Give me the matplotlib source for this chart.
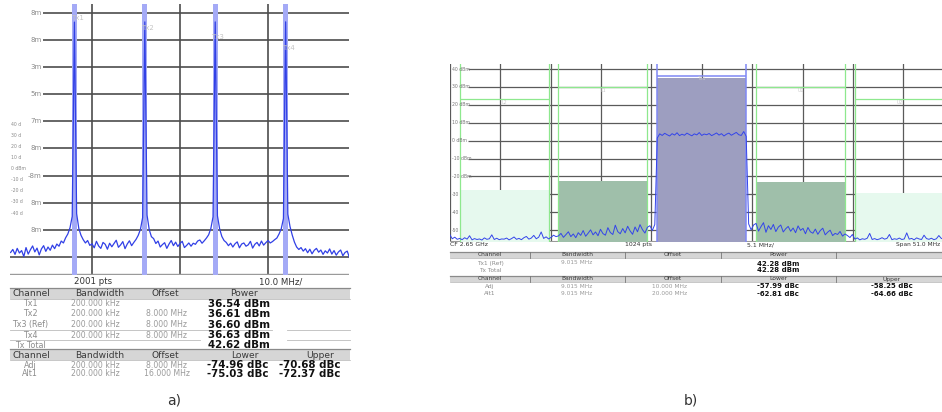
import numpy as np
import matplotlib
matplotlib.use("Agg")
import matplotlib.pyplot as plt
from matplotlib.patches import Rectangle

# ---- a) four GSM carriers, 8 MHz apart ----
carrier_mhz = [-12.0, -4.0, 4.0, 12.0]
carrier_names = ["Tx1", "Tx2", "Tx3 (Ref)", "Tx4"]
carrier_dbm = [36.54, 36.61, 36.60, 36.63]
carrier_bw = ["200.000 kHz"] * 4
carrier_offset = ["", "8.000 MHz", "8.000 MHz", "8.000 MHz"]
total_a = 42.62
acp_a_names = ["Adj", "Alt1"]
acp_a_offset = ["8.000 MHz", "16.000 MHz"]
acp_a_lower = [-74.96, -75.03]
acp_a_upper = [-70.68, -72.37]

# sweep of trace a) starts at -19.25 MHz, 0.25 MHz per point
trace_a_start, trace_a_step = -19.25, 0.25
trace_a = [
    -48.3, -47.2, -49.0, -46.8, -48.5, -47.6, -49.8, -46.5, -48.9, -47.3, -45.9,
    -48.1, -46.7, -49.2, -47.0, -45.8, -47.9, -46.3, -47.5, -45.6, -46.9,
    -45.2, -46.0, -44.1, -44.8, -42.9, -41.5, -39.2, -35.0,
    36.54,
    -34.0, -39.5, -42.0, -43.6, -44.8, -43.9, -45.7,
    -45.1, -46.6, -44.2, -45.9, -46.8, -44.6, -45.3, -47.1, -44.9, -46.2,
    -45.0, -43.8, -46.4, -45.5, -44.3, -46.9, -45.2, -44.0, -45.8,
    -44.6, -43.5, -42.0, -39.8, -35.5,
    36.61,
    -34.5, -39.9, -42.5, -43.2, -45.0, -44.1, -46.3,
    -45.4, -44.7, -46.8, -45.2, -43.9, -45.8, -44.5, -46.1, -45.0, -44.2,
    -46.5, -45.7, -44.8, -46.0, -44.9, -45.3, -44.1, -43.7, -44.9,
    -44.0, -43.0, -41.8, -39.5, -35.2,
    36.60,
    -34.8, -39.6, -42.4, -43.9, -44.6, -45.8, -44.9,
    -46.3, -45.1, -44.4, -46.6, -45.2, -44.8, -46.0, -45.5, -44.2, -46.7,
    -45.3, -44.6, -45.9, -44.1, -45.6, -44.7, -43.9, -44.8, -44.3,
    -43.6, -43.0, -41.5, -39.6, -35.8,
    36.63,
    -34.2, -38.8, -41.9, -44.5, -46.3, -47.2, -46.5,
    -47.8, -46.9, -48.4, -47.1, -48.8, -47.5, -46.8, -48.2, -47.4, -49.0, -47.7,
    -48.5, -47.0, -48.9, -47.6, -49.3, -48.1, -47.4, -49.5, -48.3, -47.8, -50.2,
]
ylabels_a = ["8m", "8m", "3m", "5m", "7m", "8m", "-8m", "8m", "8m"]
ylabels_a_small = ["40 d", "30 d", "20 d", "10 d", "0 dBm", "-10 d", "-20 d", "-30 d", "-40 d"]

# ---- b) one 9 MHz wide channel with ACP channels ----
chan_b_mhz = [-20.0, -10.0, 0.0, 10.0, 20.0]
chan_b_bw = 9.015
total_b = 42.28
acp_b_names = ["Adj", "Alt1"]
acp_b_offset = ["10.000 MHz", "20.000 MHz"]
acp_b_lower = [-57.99, -62.81]
acp_b_upper = [-58.25, -64.66]
limit_b = [23.2, 30.0, 36.3, 30.0, 23.2]
bar_b_offset = 7.1  # bars shown per-MHz density

trace_b_start, trace_b_step = -25.5, 0.25
trace_b = [
    -52.5, -54.8, -53.9, -55.1,
    -54.6, -55.3, -54.2, -55.0, -53.1, -55.4, -54.7, -55.2, -54.9, -55.5,
    -54.3, -55.1, -54.8, -52.6, -55.2, -54.5, -55.3, -54.9, -55.0, -54.4,
    -55.4, -54.7, -53.8, -55.1, -54.6, -55.3, -54.2, -53.5, -55.0, -54.4,
    -52.9, -54.8, -53.9, -51.0, -54.6, -53.7, -54.9,
    -54.0, -52.8, -53.6,
    -53.2, -51.8, -54.0, -52.5, -50.9, -53.6, -52.1, -54.2, -51.4, -52.9,
    -50.2, -53.4, -51.7, -49.8, -52.6, -51.0, -53.1, -49.5, -51.9, -52.8,
    -48.6, -51.3, -52.4, -47.2, -50.8, -52.0, -49.1, -51.5, -47.8, -50.4,
    -52.3, -48.2, -50.9, -46.9, -49.7, -51.6, -48.4,
    -47.5, -50.2, -46.8,
    1.5, 3.8, 2.9, 4.1, 3.3, 2.6, 3.9, 3.1, 4.4, 2.8, 3.6, 3.0, 4.2, 3.4,
    2.7, 3.8, 3.2, 4.5, 2.9, 3.7, 3.3, 4.0, 2.8, 3.5, 4.3, 3.1, 3.9, 2.6,
    3.6, 4.2, 3.0, 3.8, 4.6, 3.3, 2.9, 5.1, 2.4,
    -46.5, -49.8, -47.1,
    -46.2, -50.5, -48.0, -45.8, -51.2, -47.5, -49.6, -46.8, -50.8, -48.3,
    -47.1, -51.0, -49.2, -47.9, -50.6, -48.8, -51.4, -47.6, -50.1, -49.0,
    -52.0, -48.5, -50.9, -51.7, -49.4, -52.3, -50.2, -48.9, -52.6, -51.1,
    -50.0, -53.0, -51.8, -52.4, -50.7, -53.3, -52.1,
    -53.0, -54.1, -52.4,
    -55.0, -54.3, -55.4, -54.8, -55.1, -54.5, -51.8, -55.2, -54.7, -55.3,
    -54.9, -54.2, -55.0, -54.6, -52.4, -55.3, -54.8, -55.1, -54.4, -55.2,
    -54.9, -51.5, -55.0, -54.6, -55.4, -54.3, -54.9, -55.2, -52.8, -54.7,
    -55.1, -54.5, -55.3, -54.8, -53.0, -54.6, -55.0,
]
ylabels_b = ["40 dBm", "30 dBm", "20 dBm", "10 dBm", "0 dBm", "-10 dBm",
             "-20 dBm", "-30", "-40", "-50"]

W, H = 942, 412
fig = plt.figure(figsize=(W / 100, H / 100), dpi=100)
fig.patch.set_facecolor("white")


def axes_px(x0, y0, x1, y1):
    ax = fig.add_axes([x0 / W, 1 - y1 / H, (x1 - x0) / W, (y1 - y0) / H])
    ax.set_axis_off()
    return ax


def txt(x, y, s, size=6, color="#333333", ha="center", weight="normal"):
    fig.text(x / W, 1 - y / H, s, fontsize=size, color=color, ha=ha,
             va="center", fontweight=weight)


def hline(x0, x1, y, color="#bbbbbb", lw=0.6):
    fig.add_artist(plt.Line2D([x0 / W, x1 / W], [1 - y / H, 1 - y / H],
                              color=color, lw=lw, transform=fig.transFigure))


def header_bar(x0, x1, y0, y1, seps=()):
    fig.add_artist(Rectangle((x0 / W, 1 - y1 / H), (x1 - x0) / W, (y1 - y0) / H,
                             facecolor="#d6d6d6", edgecolor="none",
                             transform=fig.transFigure))
    hline(x0, x1, y0, color="#8a8a8a", lw=0.9)
    hline(x0, x1, y1, color="#b0b0b0", lw=0.5)
    for s in seps:
        fig.add_artist(plt.Line2D([s / W, s / W], [1 - y0 / H, 1 - y1 / H],
                                  color="#777777", lw=0.6,
                                  transform=fig.transFigure))


# ================= panel a) =================
axa = axes_px(10, 4, 349, 275)
axa.set_xlim(-19.32, 19.2)
axa.set_ylim(-56.6, 43.2)
grid_a = [40, 30, 20, 10, 0, -10, -20, -30, -40, -50]
for lvl in grid_a:
    x_start = -19.32 if lvl == -50 else -15.57
    axa.hlines(lvl, x_start, 19.2, color="#4d4d4d", lw=1.2, zorder=1)
for f in [-10, 0, 10]:
    axa.axvline(f, color="#4d4d4d", lw=1.2, zorder=1)
axa.axhline(-56.4, color="#9a9a9a", lw=1.0, zorder=1)
for c in carrier_mhz:
    axa.axvspan(c - 0.27, c + 0.27, color="#a4aaf6", lw=0, zorder=2)
freq_a = trace_a_start + trace_a_step * np.arange(len(trace_a))
axa.plot(freq_a, trace_a, color="#3140e6", lw=0.9, zorder=3)
for lvl, lab in zip(grid_a, ylabels_a):
    axa.text(-15.7, lvl, lab, fontsize=5, color="#8a8a8a", ha="right", va="center")
for i, lab in enumerate(ylabels_a_small):
    axa.text(-19.2, -1 - i * 4.1, lab, fontsize=3.3, color="#8a8a8a",
             ha="left", va="center")
for c, lab, lv in zip(carrier_mhz, ["Tx1", "Tx2", "Tx3", "Tx4"], [38.0, 34.3, 31.0, 27.0]):
    axa.text(c + 0.3, lv, lab, fontsize=5, color="#c4c4c4", ha="center", va="center")

txt(93, 282, "2001 pts", 6.2)
txt(281, 282, "10.0 MHz/", 6.2)
header_bar(10, 350, 288, 299)
hdr_a = [(31, "Channel"), (100, "Bandwidth"), (165, "Offset"), (244, "Power")]
for x, s in hdr_a:
    txt(x, 294, s, 6.6, "#3a3a3a")
rows_y = [304, 314, 324.5, 335]
for y, name, bw, off, p in zip(rows_y, carrier_names, carrier_bw, carrier_offset, carrier_dbm):
    txt(30, y, name, 5.8, "#8c8c8c")
    txt(95, y, bw, 5.6, "#9a9a9a")
    txt(167, y, off, 5.6, "#9a9a9a")
    txt(239, y, f"{p:.2f} dBm", 7.4, "#111111", weight="bold")
txt(30, 345, "Tx Total", 5.8, "#8c8c8c")
txt(239, 345, f"{total_a:.2f} dBm", 7.4, "#111111", weight="bold")
hline(10, 272, 330)
hline(287, 350, 330)
hline(10, 200, 340)
hline(287, 350, 340)
header_bar(10, 350, 349, 360)
for x, s in [(31, "Channel"), (100, "Bandwidth"), (165, "Offset"), (245, "Lower"), (320, "Upper")]:
    txt(x, 355, s, 6.6, "#3a3a3a")
for y, name, off, lo, up in zip([365, 374], acp_a_names, acp_a_offset, acp_a_lower, acp_a_upper):
    txt(30, y, name, 5.8, "#8c8c8c")
    txt(95, y, "200.000 kHz", 5.6, "#9a9a9a")
    txt(167, y, off, 5.6, "#9a9a9a")
    txt(238, y, f"{lo:.2f} dBc", 7.4, "#111111", weight="bold")
    txt(310, y, f"{up:.2f} dBc", 7.4, "#111111", weight="bold")
txt(174, 401, "a)", 10, "#333333")

# ================= panel b) =================
axb = axes_px(450, 64, 942, 242)
axb.set_xlim(-25.48, 24.32)
axb.set_ylim(-56.6, 42.8)
grid_b = [40, 30, 20, 10, 0, -10, -20, -30, -40, -50]
for lvl in grid_b:
    axb.hlines(lvl, -23.65, 24.32, color="#5a5a5a", lw=0.9, zorder=1)
for k in range(-5, 5):
    axb.axvline(k * 5.1, color="#5a5a5a", lw=0.9, zorder=1)
axb.axhline(-56.3, color="#9a9a9a", lw=0.8, zorder=1)

chan_power = [total_b + acp_b_lower[1], total_b + acp_b_lower[0], total_b,
              total_b + acp_b_upper[0], total_b + acp_b_upper[1]]
bar_top = [p - bar_b_offset for p in chan_power]
bar_colors = ["#e6f9ee", "#9fbfaa", "#9d9ec0", "#9fbfaa", "#e6f9ee"]
axb.bar(chan_b_mhz, [t + 60 for t in bar_top], bottom=-60, width=chan_b_bw,
        color=bar_colors, edgecolor="none", zorder=2)
for c, lim in zip(chan_b_mhz, limit_b):
    col = "#7f88f4" if c == 0 else "#8ee88e"
    lw = 1.1 if c == 0 else 0.9
    axb.axvline(c - chan_b_bw / 2, color=col, lw=lw, zorder=2.5)
    axb.axvline(c + chan_b_bw / 2, color=col, lw=lw, zorder=2.5)
    axb.hlines(lim, c - chan_b_bw / 2, c + chan_b_bw / 2, color=col, lw=lw, zorder=2.5)
freq_b = trace_b_start + trace_b_step * np.arange(len(trace_b))
axb.plot(freq_b, trace_b, color="#3344ea", lw=0.7, zorder=3)
for lvl, lab in zip(grid_b, ylabels_b):
    axb.text(-25.3, lvl, lab, fontsize=3.3, color="#777777", ha="left", va="center")
for c, lim, lab in zip(chan_b_mhz, limit_b, ["L2", "L1", "Tx1", "U1", "U2"]):
    axb.text(c, lim - 1.8, lab, fontsize=3.3, color="#c8c8c8", ha="center", va="center", zorder=4)

txt(450, 245, "CF 2.65 GHz", 4.4, ha="left")
txt(625, 245, "1024 pts", 4.4, ha="left")
txt(747, 245, "5.1 MHz/", 4.4, ha="left")
txt(940, 245, "Span 51.0 MHz", 4.2, ha="right")
seps_b = [530, 625, 721, 836]
header_bar(450, 942, 251.5, 258, seps_b)
for x, s in [(490, "Channel"), (577, "Bandwidth"), (673, "Offset"), (778, "Power")]:
    txt(x, 255, s, 4.3, "#3a3a3a")
txt(490, 263, "Tx1 (Ref)", 4.2, "#8c8c8c")
txt(577, 263, f"{chan_b_bw:.3f} MHz", 4.2, "#9a9a9a")
txt(778, 263.5, f"{total_b:.2f} dBm", 5.0, "#111111", weight="bold")
txt(490, 270, "Tx Total", 4.2, "#8c8c8c")
txt(778, 270.5, f"{total_b:.2f} dBm", 5.0, "#111111", weight="bold")
header_bar(450, 942, 276, 282, seps_b)
for x, s in [(490, "Channel"), (577, "Bandwidth"), (673, "Offset"), (778, "Lower"), (892, "Upper")]:
    txt(x, 279, s, 4.3, "#3a3a3a")
for y, name, off, lo, up in zip([286.5, 293.5], acp_b_names, acp_b_offset, acp_b_lower, acp_b_upper):
    txt(490, y, name, 4.2, "#8c8c8c")
    txt(577, y, f"{chan_b_bw:.3f} MHz", 4.2, "#9a9a9a")
    txt(670, y, off, 4.2, "#9a9a9a")
    txt(778, y, f"{lo:.2f} dBc", 5.0, "#111111", weight="bold")
    txt(892, y, f"{up:.2f} dBc", 5.0, "#111111", weight="bold")
txt(691, 401, "b)", 10, "#333333")

fig.savefig("out.png", dpi=100)
